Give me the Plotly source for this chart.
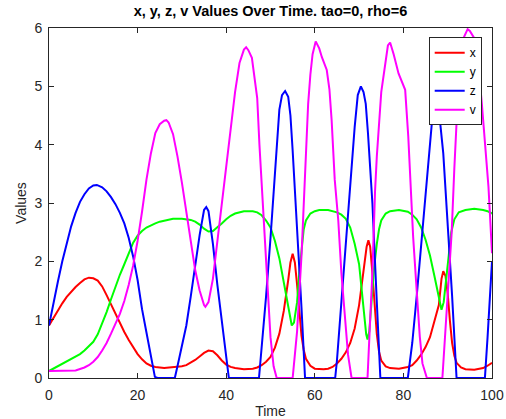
import plotly.graph_objects as go

# ---- data ----
t_x = [0, 1, 2, 3, 4, 5, 6, 7, 8, 9, 10, 11, 12, 13, 14, 15, 16, 17, 18, 19, 20, 21, 22, 23, 24, 26, 28, 30, 31, 32, 33, 34, 35, 36, 37, 38, 39, 40, 41, 42, 44, 46, 47, 48, 49, 50, 51, 52, 53, 54, 54.5, 55, 55.5, 56, 56.5, 57, 57.5, 58, 59, 60, 62, 63, 64, 65, 66, 67, 68, 69, 70, 71, 71.7, 72.1, 72.5, 73, 73.5, 74, 74.5, 75, 76, 77, 79, 81, 82, 83, 84, 85, 86, 87, 88, 88.6, 89, 89.5, 90, 90.5, 91, 91.5, 92, 93, 94, 96, 97, 98, 99, 100]
x_vals = [0.9, 1.03, 1.16, 1.28, 1.39, 1.48, 1.56, 1.63, 1.69, 1.72, 1.71, 1.67, 1.57, 1.42, 1.26, 1.09, 0.93, 0.79, 0.65, 0.52, 0.41, 0.32, 0.25, 0.21, 0.19, 0.17, 0.18, 0.2, 0.22, 0.26, 0.31, 0.37, 0.43, 0.47, 0.46, 0.39, 0.3, 0.23, 0.19, 0.17, 0.15, 0.16, 0.18, 0.22, 0.28, 0.36, 0.52, 0.76, 1.15, 1.68, 1.98, 2.13, 1.98, 1.6, 1.1, 0.72, 0.48, 0.33, 0.21, 0.16, 0.15, 0.16, 0.19, 0.25, 0.33, 0.44, 0.6, 0.85, 1.25, 1.8, 2.25, 2.36, 2.25, 1.8, 1.2, 0.75, 0.45, 0.3, 0.2, 0.17, 0.16, 0.19, 0.22, 0.3, 0.4, 0.53, 0.7, 0.98, 1.25, 1.7, 1.83, 1.75, 1.45, 0.98, 0.6, 0.38, 0.26, 0.18, 0.15, 0.14, 0.15, 0.17, 0.21, 0.26]

t_y = [0, 1, 2, 3, 4, 5, 6, 7, 8, 9, 10, 11, 12, 13, 14, 15, 16, 17, 18, 19, 20, 21, 22, 23, 24, 25, 26, 28, 30, 32, 33, 34, 35, 36, 37, 38, 39, 40, 41, 42, 44, 46, 47, 48, 49, 50, 51, 52, 53, 54, 54.8, 55.3, 56, 56.5, 57, 57.5, 58, 58.5, 59, 60, 61, 63, 64, 65, 66, 67, 68, 69, 70, 70.5, 71, 71.6, 71.9, 72.3, 72.8, 73.4, 74, 74.5, 75, 76, 77, 79, 81, 82, 83, 84, 85, 86, 87, 88, 88.6, 89.1, 89.6, 90.2, 90.8, 91.5, 92.5, 94, 96, 98, 99, 100]
y_vals = [0.12, 0.16, 0.2, 0.24, 0.28, 0.32, 0.36, 0.41, 0.47, 0.54, 0.62, 0.75, 0.93, 1.13, 1.35, 1.57, 1.77, 1.95, 2.15, 2.32, 2.44, 2.52, 2.58, 2.62, 2.65, 2.68, 2.7, 2.73, 2.73, 2.71, 2.68, 2.63, 2.56, 2.51, 2.52, 2.58, 2.65, 2.72, 2.78, 2.82, 2.86, 2.86, 2.84, 2.79, 2.7, 2.58, 2.35, 2.05, 1.65, 1.2, 0.9, 0.95, 1.3, 1.8, 2.25, 2.55, 2.7, 2.77, 2.82, 2.86, 2.88, 2.88, 2.86, 2.84, 2.8, 2.73, 2.58, 2.3, 1.95, 1.6, 1.2, 0.75, 0.66, 0.8, 1.3, 1.9, 2.3, 2.55, 2.7, 2.82, 2.86, 2.88, 2.85, 2.8, 2.72, 2.58, 2.37, 2.1, 1.75, 1.35, 1.17, 1.3, 1.65, 2.15, 2.5, 2.72, 2.84, 2.88, 2.9, 2.88, 2.86, 2.82]

t_z = [0, 1, 2, 3, 4, 5, 6, 7, 8, 9, 10, 10.8, 12, 13, 14, 15, 16, 17, 18, 19, 20, 21, 22, 23, 23.9, 24.5, 28.4, 29, 30, 31, 32, 33, 34, 35, 35.5, 36, 37, 38, 39, 40, 40.6, 47.4, 48, 49, 50, 51, 52, 52.6, 53.3, 54, 54.5, 55, 56, 57, 57.8, 64.6, 65, 66, 67, 68, 69, 69.7, 70.4, 71, 71.5, 72, 73, 74, 74.8, 81, 82, 83, 84, 85, 86, 86.8, 87.4, 88, 89, 90, 91, 92, 98.4, 99, 99.5, 100]
z_vals = [0.9, 1.3, 1.65, 2.0, 2.3, 2.6, 2.83, 3.02, 3.15, 3.25, 3.3, 3.31, 3.27, 3.2, 3.1, 2.98, 2.83, 2.65, 2.4, 2.08, 1.68, 1.18, 0.78, 0.4, 0.02, 0, 0, 0.2, 0.55, 0.9, 1.4, 1.95, 2.45, 2.88, 2.93, 2.86, 2.3, 1.6, 1.0, 0.3, 0, 0, 0.5, 1.4, 2.4, 3.55, 4.6, 4.85, 4.92, 4.82, 4.5, 3.9, 2.6, 1.2, 0, 0, 0.3, 1.3, 2.4, 3.4, 4.3, 4.85, 5.0, 4.9, 4.7, 4.2, 3.0, 1.3, 0, 0, 0.6, 1.4, 2.3, 3.2, 4.1, 4.7, 4.85, 4.6, 3.85, 2.7, 1.4, 0, 0, 0.7, 1.35, 2.0]

t_v = [0, 2, 4, 6, 8, 9, 10, 11, 12, 13, 14, 15, 16, 17, 18, 19, 20, 21, 22, 23, 24, 25, 26, 26.5, 27, 28, 29, 30, 31, 32, 33, 34, 35, 35.3, 36, 37, 38, 39, 40, 41, 42, 43, 44, 44.5, 45, 45.8, 46.5, 47, 47.5, 48, 49, 50, 50.7, 51.4, 55, 56, 57, 58, 58.5, 59, 59.5, 60.2, 61, 61.6, 62.7, 63.3, 63.8, 64.5, 65.3, 66, 66.8, 67.5, 68.3, 71.9, 72.5, 73, 73.6, 74, 75, 76, 76.5, 77, 77.8, 78.9, 79.5, 80.4, 81.1, 81.6, 82.2, 83, 83.7, 84.3, 85.3, 88.8, 89.5, 90.2, 90.9, 91.5, 92.4, 93, 93.7, 94.5, 95, 96.2, 97, 97.7, 98.5, 99.2, 100]
v_vals = [0.12, 0.12, 0.12, 0.13, 0.18, 0.22, 0.28, 0.36, 0.47, 0.6, 0.76, 0.92, 1.1, 1.32, 1.6, 1.93, 2.35, 2.85, 3.4, 3.85, 4.2, 4.35, 4.41, 4.42, 4.38, 4.18, 3.8, 3.35, 2.85, 2.35, 1.85, 1.5, 1.25, 1.22, 1.3, 1.7, 2.35, 3.0, 3.6, 4.25, 4.9, 5.4, 5.63, 5.67, 5.62, 5.49, 5.1, 4.8, 4.0, 3.3, 1.9, 0.7, 0.2, 0, 0, 0.8, 2.1, 3.9, 4.7, 5.2, 5.55, 5.77, 5.65, 5.5, 5.28, 4.95, 4.42, 3.4, 2.7, 1.8, 1.0, 0.4, 0, 0, 1.0, 1.8, 3.2, 3.8, 4.9, 5.5, 5.7, 5.75, 5.55, 5.22, 5.1, 4.94, 4.14, 3.3, 2.42, 1.5, 0.71, 0.25, 0, 0, 0.8, 1.6, 2.5, 3.6, 5.0, 5.5, 5.85, 5.98, 5.95, 5.8, 5.3, 4.71, 4.0, 3.28, 2.14]

series_names = ["x", "y", "z", "v"]
series_colors = ["#ff0000", "#00ff00", "#0000ff", "#ff00ff"]
x_ticks = [0, 20, 40, 60, 80, 100]
y_ticks = [0, 1, 2, 3, 4, 5, 6]
title_text = "x, y, z, v Values Over Time. tao=0, rho=6"

fig = go.Figure()
for name, tt, vv, col in zip(series_names, [t_x, t_y, t_z, t_v],
                             [x_vals, y_vals, z_vals, v_vals], series_colors):
    fig.add_trace(go.Scatter(x=tt, y=vv, mode="lines", name=name,
                             line=dict(color=col, width=2)))

axis_col = "#262626"
font_family = "Liberation Sans, Arial, sans-serif"
L, R, T, B = 49, 492, 28, 378
fig.update_layout(
    width=506, height=419,
    margin=dict(l=L, r=506 - R, t=T, b=419 - B, autoexpand=False),
    paper_bgcolor="white", plot_bgcolor="white",
    font=dict(family=font_family, color=axis_col, size=14),
    title=dict(text="<b>" + title_text + "</b>", x=(L + (R - L) / 2) / 506, xanchor="center",
               y=1 - 11 / 419, yanchor="middle", font=dict(size=14.5, color="black")),
    showlegend=True,
    legend=dict(x=(481.7 - L) / (R - L), xanchor="right", y=(B - 37.3) / (B - T), yanchor="top",
                bgcolor="white", bordercolor=axis_col, borderwidth=1,
                font=dict(size=12, color="black"), tracegroupgap=0,
                itemwidth=30),
    hovermode=False,
)
fig.update_xaxes(range=[0, 100], tickvals=x_ticks, ticks="inside", ticklen=5,
                 tickcolor=axis_col, showline=True, linecolor=axis_col, linewidth=1,
                 mirror="ticks", showgrid=False, zeroline=False, automargin=False,
                 ticklabelstandoff=4,
                 title=dict(text="Time", standoff=4, font=dict(size=14)),
                 tickfont=dict(size=14, color=axis_col))
fig.update_yaxes(range=[0, 6], tickvals=y_ticks, ticks="inside", ticklen=5,
                 tickcolor=axis_col, showline=True, linecolor=axis_col, linewidth=1,
                 mirror="ticks", showgrid=False, zeroline=False, automargin=False,
                 ticklabelstandoff=3,
                 title=dict(text="Values", standoff=4, font=dict(size=14)),
                 tickfont=dict(size=14, color=axis_col))

fig.write_html("out.html", config={"displayModeBar": False},
               post_script="document.body.style.margin='0';")
